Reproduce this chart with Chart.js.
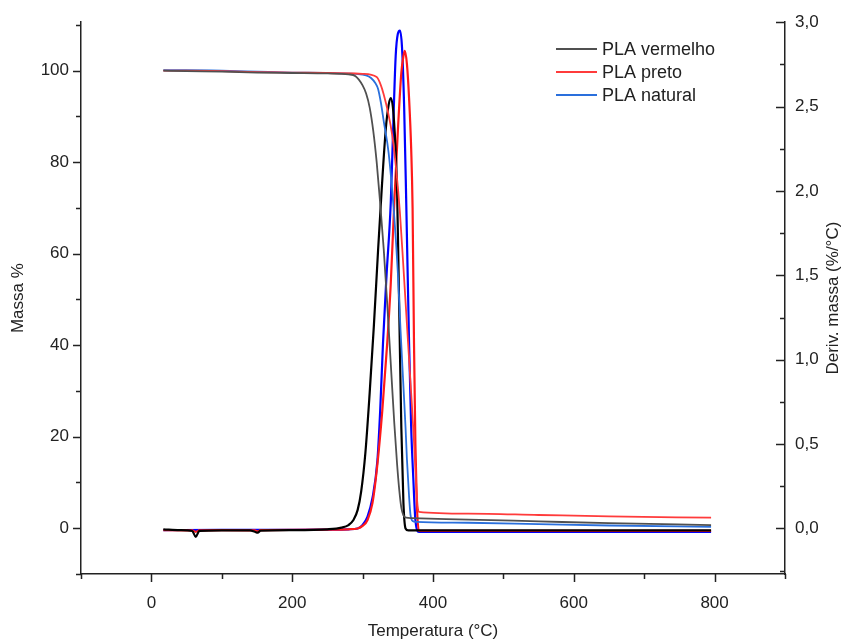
<!DOCTYPE html>
<html>
<head>
<meta charset="utf-8">
<script src="https://cdn.jsdelivr.net/npm/chart.js@4.4.0/dist/chart.umd.min.js"></script>
<style>
html, body { margin: 0; padding: 0; background: #fff; }
</style>
</head>
<body>
<canvas id="tgaChart" width="849" height="639"></canvas>
<script>
// TGA (massa %) - eixo esquerdo
const tempVermelho = [17, 50, 100, 150, 200, 250, 280, 290, 300, 305, 310, 315, 320, 325, 330, 335, 340, 345, 349, 352, 355, 358, 362, 370, 450, 550, 650, 795];
const massaVermelho = [100, 99.9, 99.8, 99.6, 99.5, 99.4, 99.2, 98.8, 96.8, 95, 92, 87, 80, 71, 61, 49, 36, 23, 14, 8.5, 4.5, 2.8, 2.3, 2.2, 1.9, 1.5, 1.1, 0.7];

const tempPreto = [17, 50, 100, 150, 200, 250, 300, 320, 326, 330, 336, 342, 348, 353, 358, 362, 366, 370, 373, 376, 378, 380, 450, 550, 650, 795];
const massaPreto = [100, 100, 99.9, 99.7, 99.6, 99.5, 99.3, 98.6, 96.8, 94.8, 91, 86, 78, 69, 57, 47, 37, 27, 19, 10, 5, 3.6, 3.2, 2.9, 2.6, 2.3];

const tempNatural = [17, 50, 100, 150, 200, 250, 290, 305, 312, 318, 322, 326, 330, 337, 345, 350, 354, 358, 361, 363, 366, 368, 371, 376, 450, 550, 650, 795];
const massaNatural = [100.1, 100.1, 100, 99.8, 99.6, 99.5, 99.3, 99.0, 98.4, 97.3, 96, 93, 89, 82, 68, 56, 43, 31, 22, 15, 7, 3, 1.6, 1.4, 1.2, 0.9, 0.6, 0.3];

// DTG (%/°C) - eixo direito
const tempDtgVermelho = [17, 40, 58, 63, 68, 100, 140, 147, 151, 155, 200, 250, 270, 280, 287, 293, 298, 304, 310, 316, 322, 327, 333, 337, 340, 344, 349, 352, 355, 358, 361, 365, 400, 500, 600, 700, 795];
const dtgVermelho = [-0.005, -0.01, -0.015, -0.05, -0.015, -0.012, -0.012, -0.02, -0.025, -0.013, -0.01, -0.005, 0.005, 0.02, 0.05, 0.11, 0.22, 0.45, 0.8, 1.2, 1.65, 2.0, 2.37, 2.51, 2.55, 2.45, 2.0, 1.3, 0.6, 0.15, 0.0, -0.012, -0.012, -0.012, -0.012, -0.012, -0.012];

const tempDtgPreto = [17, 58, 63, 68, 100, 147, 151, 155, 200, 250, 280, 293, 300, 307, 314, 321, 328, 335, 340, 345, 350, 355, 358, 360, 363, 366, 369, 371, 373, 375, 377, 380, 400, 500, 600, 700, 795];
const dtgPreto = [-0.01, -0.012, -0.02, -0.012, -0.01, -0.012, -0.018, -0.01, -0.008, -0.007, -0.005, 0.0, 0.015, 0.05, 0.15, 0.38, 0.7, 1.1, 1.45, 1.93, 2.35, 2.7, 2.8, 2.83, 2.75, 2.55, 2.25, 1.9, 1.1, 0.5, 0.15, -0.015, -0.015, -0.015, -0.015, -0.015, -0.015];

const tempDtgNatural = [17, 100, 200, 250, 280, 293, 300, 307, 314, 321, 325, 329, 334, 340, 344, 347, 350, 353, 356, 359, 362, 366, 369, 372, 375, 380, 400, 500, 600, 700, 795];
const dtgNatural = [-0.01, -0.008, -0.008, -0.007, -0.005, 0.0, 0.02, 0.07, 0.18, 0.4, 0.7, 1.1, 1.5, 1.93, 2.45, 2.8, 2.93, 2.95, 2.85, 2.5, 1.93, 1.1, 0.6, 0.3, 0.05, -0.02, -0.02, -0.02, -0.02, -0.02, -0.02];

const seriesLabels = ['PLA vermelho', 'PLA preto', 'PLA natural'];

const xTicks = [0, 200, 400, 600, 800];
const xMinorTicks = [-100, 100, 300, 500, 700, 900];
const massTicks = [0, 20, 40, 60, 80, 100];
const massMinorTicks = [-10, 10, 30, 50, 70, 90, 110];
const derivTicks = [0, 0.5, 1.0, 1.5, 2.0, 2.5, 3.0];
const derivMinorTicks = [-0.25, 0.25, 0.75, 1.25, 1.75, 2.25, 2.75];

const FONT = "'Liberation Sans', Arial, sans-serif";
const AXIS_COLOR = '#222';

function toPoints(xs, ys) {
    return xs.map((x, i) => ({ x: x, y: ys[i] }));
}

function lineDataset(label, xs, ys, color, axis, width) {
    return {
        label: label,
        data: toPoints(xs, ys),
        borderColor: color,
        backgroundColor: color,
        borderWidth: width,
        pointRadius: 0,
        cubicInterpolationMode: 'monotone',
        yAxisID: axis,
        fill: false
    };
}

// marcas de escala (principais e secundárias) desenhadas a partir das escalas
const tickMarks = {
    id: 'tickMarks',
    afterDraw(chart) {
        const ctx = chart.ctx;
        const area = chart.chartArea;
        const sx = chart.scales.x, sy = chart.scales.y, sy1 = chart.scales.y1;
        ctx.save();
        ctx.strokeStyle = AXIS_COLOR;
        ctx.lineWidth = 1.5;
        ctx.beginPath();
        const hTicks = (vals, len) => vals.forEach(v => {
            const px = Math.round(sx.getPixelForValue(v)) + 0.5;
            ctx.moveTo(px, area.bottom);
            ctx.lineTo(px, area.bottom + len);
        });
        const leftTicks = (vals, len) => vals.forEach(v => {
            const py = Math.round(sy.getPixelForValue(v)) + 0.5;
            ctx.moveTo(area.left, py);
            ctx.lineTo(area.left - len, py);
        });
        const rightTicks = (vals, len) => vals.forEach(v => {
            const py = Math.round(sy1.getPixelForValue(v)) + 0.5;
            ctx.moveTo(area.right, py);
            ctx.lineTo(area.right - len, py);
        });
        hTicks(xTicks, 8);
        hTicks(xMinorTicks, 5);
        leftTicks(massTicks, 8);
        leftTicks(massMinorTicks, 5);
        rightTicks(derivTicks, 9);
        rightTicks(derivMinorTicks, 5);
        ctx.stroke();

        // título do eixo direito (lido de baixo para cima)
        ctx.fillStyle = AXIS_COLOR;
        ctx.font = '17px ' + FONT;
        ctx.textAlign = 'center';
        ctx.textBaseline = 'middle';
        ctx.translate(833, (area.top + area.bottom) / 2);
        ctx.rotate(-Math.PI / 2);
        ctx.fillText('Deriv. massa (%/°C)', 0, 0);
        ctx.restore();

        // legenda
        ctx.save();
        ctx.font = '18px ' + FONT;
        ctx.textBaseline = 'middle';
        ctx.fillStyle = AXIS_COLOR;
        const rows = [49, 72, 95];
        for (let i = 0; i < 3; i++) {
            const ds = chart.data.datasets[i];
            ctx.strokeStyle = ds.borderColor;
            ctx.lineWidth = 2;
            ctx.beginPath();
            ctx.moveTo(556, rows[i]);
            ctx.lineTo(597, rows[i]);
            ctx.stroke();
            ctx.fillText(ds.label, 602, rows[i] + 1);
        }
        ctx.restore();
    }
};

const ctx = document.getElementById('tgaChart').getContext('2d');

new Chart(ctx, {
    type: 'line',
    data: {
        datasets: [
            lineDataset(seriesLabels[0], tempVermelho, massaVermelho, '#505050', 'y', 1.8),
            lineDataset(seriesLabels[1], tempPreto, massaPreto, '#ff3b3b', 'y', 1.8),
            lineDataset(seriesLabels[2], tempNatural, massaNatural, '#2a6fdc', 'y', 1.8),
            lineDataset('DTG ' + seriesLabels[0], tempDtgVermelho, dtgVermelho, '#000000', 'y1', 2.2),
            lineDataset('DTG ' + seriesLabels[1], tempDtgPreto, dtgPreto, '#ff1a1a', 'y1', 2.2),
            lineDataset('DTG ' + seriesLabels[2], tempDtgNatural, dtgNatural, '#0000ff', 'y1', 2.2)
        ]
    },
    options: {
        responsive: false,
        animation: false,
        devicePixelRatio: 1,
        layout: { padding: { top: 18, left: 0, right: 0, bottom: 0 } },
        plugins: {
            legend: { display: false },
            tooltip: { enabled: false }
        },
        scales: {
            x: {
                type: 'linear',
                min: -100,
                max: 900,
                grid: { display: true, drawOnChartArea: false, drawTicks: false },
                border: { display: true, color: AXIS_COLOR, width: 1.5 },
                afterBuildTicks: scale => { scale.ticks = xTicks.map(v => ({ value: v })); },
                afterFit: scale => { scale.height = 65; },
                ticks: {
                    padding: 19,
                    color: AXIS_COLOR,
                    font: { family: FONT, size: 17 },
                    maxRotation: 0,
                    callback: v => String(v)
                },
                title: {
                    display: true,
                    text: 'Temperatura (°C)',
                    color: AXIS_COLOR,
                    font: { family: FONT, size: 17 },
                    padding: { top: 0, bottom: -3 }
                }
            },
            y: {
                position: 'left',
                min: -10,
                max: 110.6,
                grid: { display: true, drawOnChartArea: false, drawTicks: false },
                border: { display: true, color: AXIS_COLOR, width: 1.5 },
                afterBuildTicks: scale => { scale.ticks = massTicks.map(v => ({ value: v })); },
                afterFit: scale => { scale.width = 81; },
                ticks: {
                    padding: 12,
                    color: AXIS_COLOR,
                    font: { family: FONT, size: 17 },
                    callback: v => String(v)
                },
                title: {
                    display: true,
                    text: 'Massa %',
                    color: AXIS_COLOR,
                    font: { family: FONT, size: 17 },
                    padding: { top: 8, bottom: 0 }
                }
            },
            y1: {
                position: 'right',
                min: -0.27,
                max: 3.0,
                grid: { display: true, drawOnChartArea: false, drawTicks: false },
                border: { display: true, color: AXIS_COLOR, width: 1.5 },
                afterBuildTicks: scale => { scale.ticks = derivTicks.map(v => ({ value: v })); },
                afterFit: scale => { scale.width = 64; },
                ticks: {
                    padding: 10,
                    color: AXIS_COLOR,
                    font: { family: FONT, size: 17 },
                    callback: v => Number(v).toFixed(1).replace('.', ',')
                }
            }
        }
    },
    plugins: [tickMarks]
});
</script>
</body>
</html>
